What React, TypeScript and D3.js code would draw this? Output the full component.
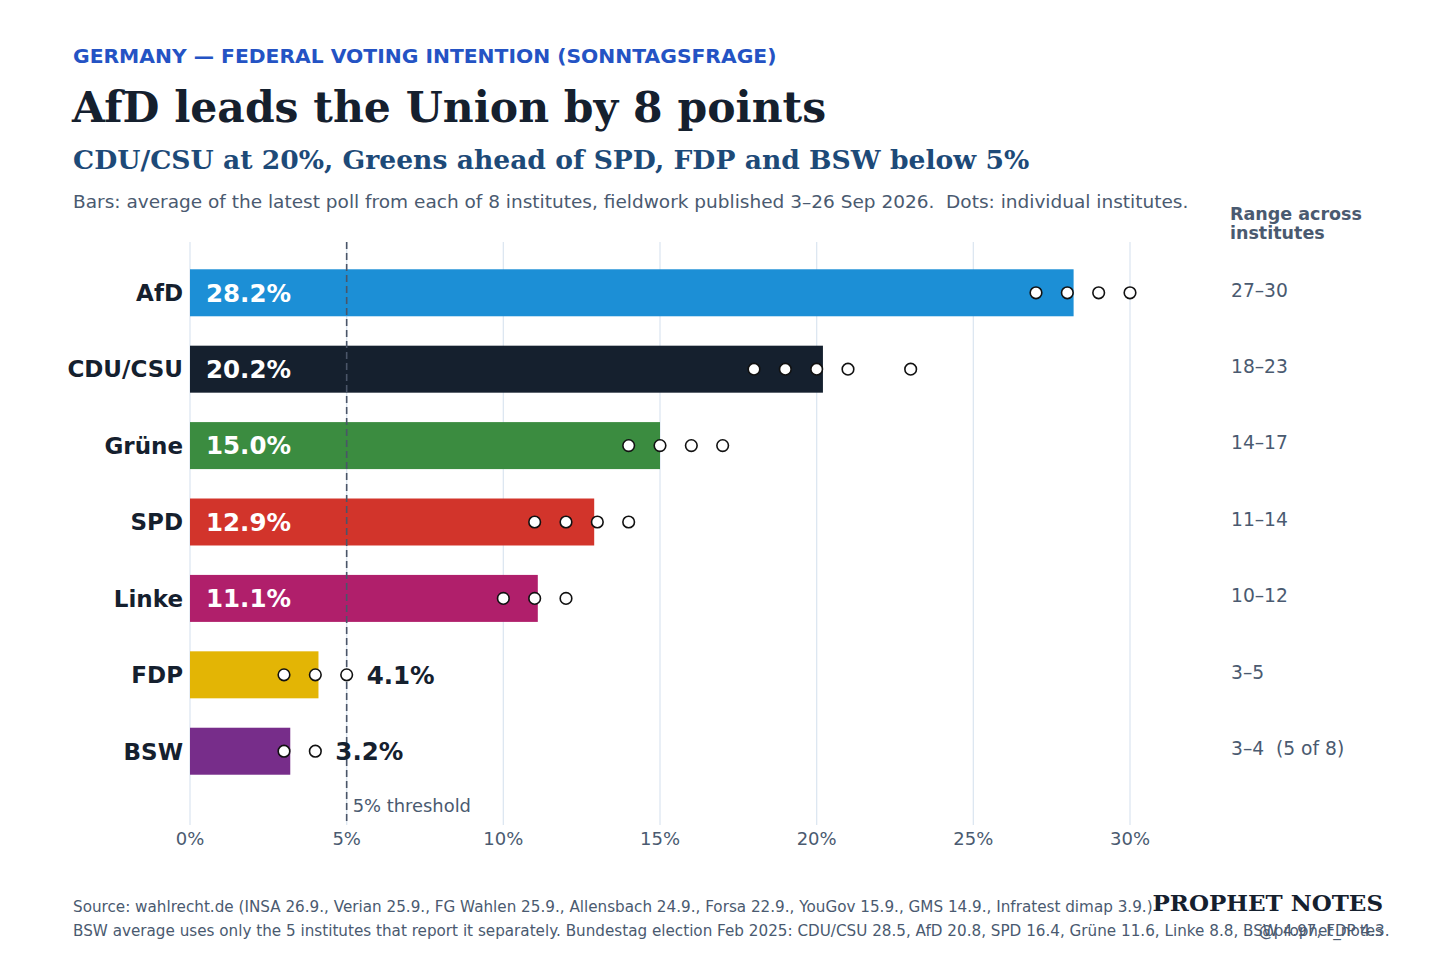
import React, { useEffect, useRef } from 'react';
import * as d3 from 'd3';

const parties = ['AfD', 'CDU/CSU', 'Grüne', 'SPD', 'Linke', 'FDP', 'BSW'];
const averages = [28.2, 20.2, 15.0, 12.9, 11.1, 4.1, 3.2];
const barColors = ['#1c8fd6', '#15202e', '#3b8c40', '#d2342b', '#b01f6b', '#e3b505', '#772d8a'];
const instituteDots = [
  [27, 28, 29, 30],
  [18, 19, 20, 21, 23],
  [14, 15, 16, 17],
  [11, 12, 13, 14],
  [10, 11, 12],
  [3, 4, 5],
  [3, 4],
];
const rangeLabels = ['27–30', '18–23', '14–17', '11–14', '10–12', '3–5', '3–4\u00a0 (5 of 8)'];
const xTicks = [0, 5, 10, 15, 20, 25, 30];
const threshold = 5;

const SANS = '"DejaVu Sans", sans-serif';
const SERIF = '"DejaVu Serif", serif';
const GREY = '#4a5a70';
const INK = '#15202e';

export default function App() {
  const ref = useRef<SVGSVGElement>(null);

  useEffect(() => {
    if (!ref.current) return;
    const svg = d3.select(ref.current);
    svg.selectAll('*').remove();

    const x = d3.scaleLinear().domain([0, 30]).range([190, 1130]);
    const y = d3.scaleBand().domain(parties).range([254, 790]).paddingInner(0.385).paddingOuter(0.2);
    const plotTop = 242;
    const plotBottom = 825;

    svg.append('rect').attr('width', 1456).attr('height', 970).attr('fill', '#fff');

    // header
    svg.append('text').attr('x', 73).attr('y', 63)
      .style('font-family', SANS).style('font-weight', 'bold').style('font-size', '20.3px')
      .attr('fill', '#2453c4').text('GERMANY — FEDERAL VOTING INTENTION (SONNTAGSFRAGE)');
    svg.append('text').attr('x', 72).attr('y', 122)
      .style('font-family', SERIF).style('font-weight', 'bold').style('font-size', '42.5px')
      .attr('fill', INK).text('AfD leads the Union by 8 points');
    svg.append('text').attr('x', 73).attr('y', 169)
      .style('font-family', SERIF).style('font-weight', 'bold').style('font-size', '26.6px')
      .attr('fill', '#1d4a78').text('CDU/CSU at 20%, Greens ahead of SPD, FDP and BSW below 5%');
    svg.append('text').attr('x', 73).attr('y', 208)
      .style('font-family', SANS).style('font-size', '18.5px').attr('fill', GREY)
      .text('Bars: average of the latest poll from each of 8 institutes, fieldwork published 3–26 Sep 2026.\u00a0 Dots: individual institutes.');

    // gridlines
    svg.append('g').selectAll('line').data(xTicks).join('line')
      .attr('x1', d => x(d)).attr('x2', d => x(d))
      .attr('y1', plotTop).attr('y2', plotBottom)
      .attr('stroke', '#dde7f1').attr('stroke-width', 1.3);

    svg.append('g').selectAll('text').data(xTicks).join('text')
      .attr('x', d => x(d)).attr('y', 845).attr('text-anchor', 'middle')
      .style('font-family', SANS).style('font-size', '18px').attr('fill', GREY)
      .text(d => `${d}%`);

    // bars
    svg.append('g').selectAll('rect').data(parties).join('rect')
      .attr('x', x(0)).attr('y', d => y(d)!)
      .attr('width', (_, i) => x(averages[i]) - x(0))
      .attr('height', y.bandwidth())
      .attr('fill', (_, i) => barColors[i]);

    // threshold line
    svg.append('line')
      .attr('x1', x(threshold)).attr('x2', x(threshold))
      .attr('y1', plotTop).attr('y2', plotBottom)
      .attr('stroke', '#4a5568').attr('stroke-width', 1.6).attr('stroke-dasharray', '7,4');
    svg.append('text').attr('x', x(threshold) + 6).attr('y', 812)
      .style('font-family', SANS).style('font-size', '17.9px').attr('fill', GREY)
      .text('5% threshold');

    // category labels
    svg.append('g').selectAll('text').data(parties).join('text')
      .attr('x', 183).attr('y', d => y(d)! + y.bandwidth() / 2).attr('dy', '0.36em')
      .attr('text-anchor', 'end')
      .style('font-family', SANS).style('font-weight', 'bold').style('font-size', '23px')
      .attr('fill', INK).text(d => d);

    // institute dots
    parties.forEach((p, i) => {
      svg.append('g').selectAll('circle').data(instituteDots[i]).join('circle')
        .attr('cx', d => x(d)).attr('cy', y(p)! + y.bandwidth() / 2).attr('r', 5.8)
        .attr('fill', '#fff').attr('stroke', '#111').attr('stroke-width', 1.6);
    });

    // value labels
    parties.forEach((p, i) => {
      const inside = averages[i] > threshold + 2;
      const outerX = Math.max(x(averages[i]), x(d3.max(instituteDots[i])!)) + 20;
      svg.append('text')
        .attr('x', inside ? x(0) + 16 : outerX)
        .attr('y', y(p)! + y.bandwidth() / 2).attr('dy', '0.36em')
        .style('font-family', SANS).style('font-weight', 'bold').style('font-size', '24.5px')
        .attr('fill', inside ? '#fff' : INK)
        .text(`${averages[i].toFixed(1)}%`);
    });

    // range column
    svg.append('text').attr('x', 1230).attr('y', 220)
      .style('font-family', SANS).style('font-weight', 'bold').style('font-size', '17.5px')
      .attr('fill', GREY).text('Range across');
    svg.append('text').attr('x', 1230).attr('y', 239)
      .style('font-family', SANS).style('font-weight', 'bold').style('font-size', '17.5px')
      .attr('fill', GREY).text('institutes');
    svg.append('g').selectAll('text').data(parties).join('text')
      .attr('x', 1231).attr('y', d => y(d)! + y.bandwidth() / 2).attr('dy', '0.2em')
      .style('font-family', SANS).style('font-size', '18.7px').attr('fill', GREY)
      .text((_, i) => rangeLabels[i]);

    // footer
    svg.append('text').attr('x', 73).attr('y', 912)
      .style('font-family', SANS).style('font-size', '15.2px').attr('fill', GREY)
      .text('Source: wahlrecht.de (INSA 26.9., Verian 25.9., FG Wahlen 25.9., Allensbach 24.9., Forsa 22.9., YouGov 15.9., GMS 14.9., Infratest dimap 3.9.)');
    svg.append('text').attr('x', 73).attr('y', 936)
      .style('font-family', SANS).style('font-size', '15.2px').attr('fill', GREY)
      .text('BSW average uses only the 5 institutes that report it separately. Bundestag election Feb 2025: CDU/CSU 28.5, AfD 20.8, SPD 16.4, Grüne 11.6, Linke 8.8, BSW 4.97, FDP 4.3.');
    svg.append('text').attr('x', 1383).attr('y', 911).attr('text-anchor', 'end')
      .style('font-family', SERIF).style('font-weight', 'bold').style('font-size', '23px')
      .attr('fill', INK).text('PROPHET NOTES');
    svg.append('text').attr('x', 1383).attr('y', 936).attr('text-anchor', 'end')
      .style('font-family', SANS).style('font-size', '15.2px').attr('fill', GREY)
      .text('@prophet_notes');
  }, []);

  return (
    <div style={{ position: 'absolute', left: 0, top: 0 }}>
      <svg ref={ref} width={1456} height={970} />
    </div>
  );
}
